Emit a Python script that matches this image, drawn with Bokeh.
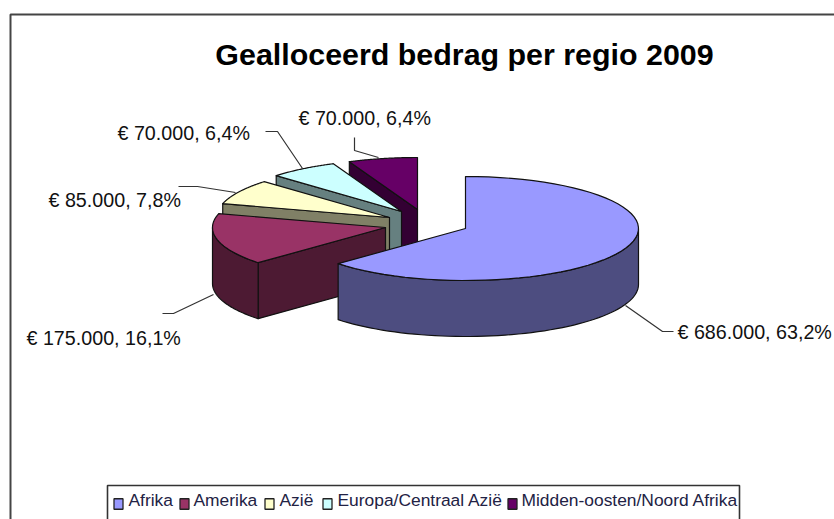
import numpy as np
from bokeh.plotting import figure
from bokeh.embed import file_html
from bokeh.resources import INLINE
from bokeh.core.properties import value

# ---- data ----
title_text = "Gealloceerd bedrag per regio 2009"
categories = ["Afrika", "Amerika", "Azië", "Europa/Centraal Azië", "Midden-oosten/Noord Afrika"]
amounts = [686000, 175000, 85000, 70000, 70000]
percents = [63.2, 16.1, 7.8, 6.4, 6.4]
labels = ["€ 686.000, 63,2%", "€ 175.000, 16,1%", "€ 85.000, 7,8%", "€ 70.000, 6,4%", "€ 70.000, 6,4%"]

# ---- style / layout ----
top_cols = ["#9999FF", "#993366", "#FFFFCC", "#CCFFFF", "#660066"]
side_cols = ["#4D4D80", "#4D1A33", "#808066", "#668080", "#330033"]
apex = [(465, 228), (385, 227), (389, 217), (401, 211), (417, 209)]
RX, RY, DEPTH = 173, 52, 56
label_pos = [(677, 331), (26, 337), (48, 199), (117, 132), (298, 117)]
leaders = [
    ([625, 662, 673], [305, 331, 331]),
    ([213, 173, 162], [294, 313, 313]),
    ([235, 197, 178], [192, 186, 186]),
    ([302, 277, 265], [168, 131, 131]),
    ([378, 354, 354], [157, 150, 137]),
]
FONT = value("Liberation Sans")

p = figure(width=834, height=519, x_range=(0, 834), y_range=(519, 0),
           output_backend="svg", toolbar_location=None, min_border=0,
           x_axis_type=None, y_axis_type=None, outline_line_color=None)
p.grid.visible = False

# outer frame
p.line([10, 10, 834], [519, 14, 14], line_color="#444444", line_width=2)

def rim(i, a0, a1, n=60):
    t = np.radians(np.linspace(a0, a1, n))
    ax, ay = apex[i]
    return ax + RX * np.sin(t), ay - RY * np.cos(t)

fracs = np.array(amounts, dtype=float) / sum(amounts)
bounds = np.concatenate([[0], np.cumsum(fracs)]) * 360.0

EDGE = dict(line_color="#111111", line_width=1.2, line_join="round")

# back to front
for i in [4, 3, 2, 1, 0]:
    a0, a1 = bounds[i], bounds[i + 1]
    ax, ay = apex[i]
    # radial cut face at start angle
    if np.sin(np.radians(a0)) < -1e-6:
        x0, y0 = rim(i, a0, a0, 1)
        p.patch([ax, x0[0], x0[0], ax], [ay, y0[0], y0[0] + DEPTH, ay + DEPTH],
                fill_color=side_cols[i], **EDGE)
    # outer wall on the viewer side
    lo, hi = max(a0, 90), min(a1, 270)
    if hi > lo:
        rx, ry = rim(i, lo, hi)
        p.patch(np.concatenate([rx, rx[::-1]]), np.concatenate([ry, ry[::-1] + DEPTH]),
                fill_color=side_cols[i], **EDGE)
    # top
    rx, ry = rim(i, a0, a1)
    p.patch(np.concatenate([[ax], rx]), np.concatenate([[ay], ry]), fill_color=top_cols[i], **EDGE)

# leaders
for (lx, ly) in leaders:
    p.line(lx, ly, line_color="#333333", line_width=1.2)

# labels
for txt, (lx, ly) in zip(labels, label_pos):
    p.text([lx], [ly], text=[txt], text_font=FONT, text_font_size="19.7px", text_color="#111111",
           text_align="left", text_baseline="middle")

p.text([464], [53], text=[title_text], text_font=FONT, text_font_size="30.4px", text_font_style="bold",
       text_color="black", text_align="center", text_baseline="middle")

# legend
p.line([107, 107, 739, 739], [519, 485, 485, 519], line_color="#333333", line_width=1.6)
leg_sw = [118, 184, 269, 327, 512]
leg_tx = [128, 193, 279, 337, 521]
for c, s, t, col in zip(categories, leg_sw, leg_tx, top_cols):
    p.rect([s], [503.5], width=9, height=10.5, fill_color=col, line_color="#222222", line_width=1.3)
    p.text([t], [499.5], text=[c], text_font=FONT, text_font_size="17.4px", text_color="#222244",
           text_align="left", text_baseline="middle")

open("out.html", "w").write(file_html(p, INLINE))
